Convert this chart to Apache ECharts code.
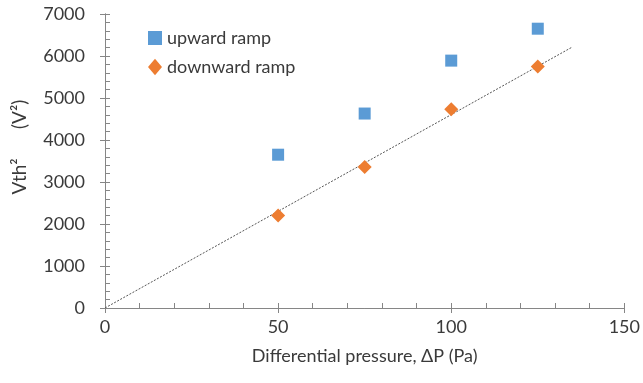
<!DOCTYPE html>
<html><head><meta charset="utf-8">
<script src="https://cdn.jsdelivr.net/npm/echarts@6/dist/echarts.min.js"></script>
<style>html,body{margin:0;padding:0;background:#fff}#c{width:643px;height:383px}</style>
</head><body><div id="c"></div>
<script>
const pressure = [50, 75, 100, 125];
const upward = [3650, 4630, 5890, 6650];
const downward = [2200, 3360, 4730, 5750];
const trendX = [0, 135];
const trendY = [0, 6215];
const seriesNames = ['upward ramp', 'downward ramp'];
const xName = 'Differential pressure, ΔP (Pa)';
const yName = 'Vth²      (V²)';

const FONT = 'Lato, "Open Sans", sans-serif';
const axisColor = '#868686';
const labelColor = '#3a3a3a';

const chart = echarts.init(document.getElementById('c'), null, {renderer: 'canvas'});
function baseX() {
  return {
    type: 'value', min: 0, max: 150, interval: 50, position: 'bottom',
    axisLine: {show: true, lineStyle: {color: axisColor, width: 1}},
    splitLine: {show: false},
  };
}
function baseY() {
  return {
    type: 'value', min: 0, max: 7000, interval: 1000, position: 'left',
    axisLine: {show: true, lineStyle: {color: axisColor, width: 1}},
    splitLine: {show: false},
  };
}
const plain = v => String(v);
const x0 = Object.assign(baseX(), {
  axisTick: {show: true, inside: false, length: 5, lineStyle: {color: axisColor}},
  axisLabel: {show: true, color: labelColor, fontFamily: FONT, fontSize: 18, margin: 10, formatter: plain},
  name: xName, nameLocation: 'middle', nameGap: 39,
  nameTextStyle: {color: labelColor, fontFamily: FONT, fontSize: 18}
});
const x1 = Object.assign(baseX(), {
  axisTick: {show: true, inside: true, length: 5, lineStyle: {color: axisColor}},
  minorTick: {show: true, splitNumber: 5, length: 5, lineStyle: {color: axisColor}},
  axisLabel: {show: false}
});
const y0 = Object.assign(baseY(), {
  axisTick: {show: true, inside: false, length: 5, lineStyle: {color: axisColor}},
  axisLabel: {show: true, color: labelColor, fontFamily: FONT, fontSize: 18, margin: 20, formatter: plain}
});
const y1 = Object.assign(baseY(), {
  axisTick: {show: true, inside: true, length: 5, lineStyle: {color: axisColor}},
  minorTick: {show: true, splitNumber: 5, length: 5, lineStyle: {color: axisColor}},
  axisLabel: {show: false}
});

chart.setOption({
  animation: false,
  backgroundColor: '#ffffff',
  grid: {left: 105, right: 15, top: 14, bottom: 75, containLabel: false},
  xAxis: [x0, x1],
  yAxis: [y0, y1],
  legend: {
    orient: 'vertical', left: 148, top: 29, itemGap: 11, padding: 0,
    itemWidth: 14, itemHeight: 20, itemStyle: {borderWidth: 0},
    data: [
      {name: seriesNames[0], icon: 'path://M1,4 L13,4 L13,16 L1,16 Z'},
      {name: seriesNames[1], icon: 'path://M7,3 L13,10 L7,17 L1,10 Z'}
    ],
    textStyle: {color: labelColor, fontFamily: FONT, fontSize: 18}
  },
  graphic: [{
    type: 'text', x: 20, y: 147, rotation: Math.PI / 2,
    style: {text: yName, fill: labelColor, font: '19px ' + FONT, textAlign: 'center', textVerticalAlign: 'middle'}
  }],
  series: [
    {
      name: 'trend', type: 'line', xAxisIndex: 0, yAxisIndex: 0,
      data: trendX.map((x, i) => [x, trendY[i]]),
      showSymbol: false, symbol: 'none', silent: true, z: 1,
      lineStyle: {color: '#555555', width: 1, type: [2, 1.5]}
    },
    {
      name: seriesNames[0], type: 'scatter', xAxisIndex: 0, yAxisIndex: 0,
      data: pressure.map((x, i) => [x, upward[i]]),
      symbol: 'rect', symbolSize: 12, z: 3,
      itemStyle: {color: '#5B9BD5', opacity: 1}
    },
    {
      name: seriesNames[1], type: 'scatter', xAxisIndex: 0, yAxisIndex: 0,
      data: pressure.map((x, i) => [x, downward[i]]),
      symbol: 'diamond', symbolSize: 14, z: 3,
      itemStyle: {color: '#ED7D31', opacity: 1}
    }
  ]
});
</script></body></html>
